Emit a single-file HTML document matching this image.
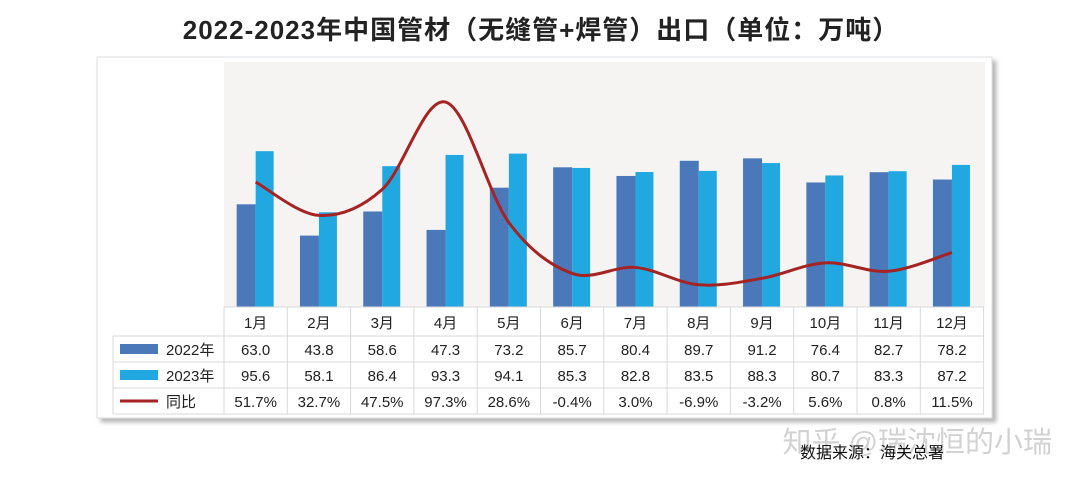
<!DOCTYPE html>
<html><head><meta charset="utf-8"><style>
body{margin:0;background:#fff;width:1080px;height:487px;overflow:hidden}
svg text{font-family:"Liberation Sans","Noto Sans CJK SC",sans-serif}
</style></head><body>
<svg id="s" width="1080" height="487" viewBox="0 0 1080 487" xmlns="http://www.w3.org/2000/svg">
<defs><filter id="sh" x="-5%" y="-5%" width="110%" height="115%"><feDropShadow dx="4" dy="4" stdDeviation="2" flood-color="#888" flood-opacity="0.6"/></filter></defs>
<text x="541" y="39" text-anchor="middle" font-size="26" font-weight="bold" fill="#222" letter-spacing="1">2022-2023年中国管材（无缝管+焊管）出口（单位：万吨）</text>
<rect x="97" y="57" width="895" height="361" fill="#fff" stroke="#ddd" filter="url(#sh)"/>
<rect x="224" y="62" width="761" height="245" fill="#f6f4f3"/>
<g id="bars"></g>
<path id="ln" fill="none" stroke="#a52323" stroke-width="3"/>
<g id="tbl" font-size="15" fill="#222"></g>
<text x="1052" y="452" text-anchor="end" font-size="29" fill="#c8c8c8" opacity="0.8">知乎 @瑞沈恒的小瑞</text>
<text x="800" y="458" font-size="16" fill="#111">数据来源：海关总署</text>
</svg>
<script>
const a=[63.0,43.8,58.6,47.3,73.2,85.7,80.4,89.7,91.2,76.4,82.7,78.2];
const b=[95.6,58.1,86.4,93.3,94.1,85.3,82.8,83.5,88.3,80.7,83.3,87.2];
const c=[51.7,32.7,47.5,97.3,28.6,-0.4,3.0,-6.9,-3.2,5.6,0.8,11.5];
const cs=["51.7%","32.7%","47.5%","97.3%","28.6%","-0.4%","3.0%","-6.9%","-3.2%","5.6%","0.8%","11.5%"];
const x0=224,w=63.3,base=307,k=1.63;
let h="";
for(let i=0;i<12;i++){const cx=x0+w*i+w/2;
h+=`<rect x="${cx-19}" y="${base-a[i]*k}" width="19" height="${a[i]*k}" fill="#4a78b8"/>`;
h+=`<rect x="${cx}" y="${base-b[i]*k}" width="18" height="${b[i]*k}" fill="#22a8e0"/>`;}
document.getElementById('bars').innerHTML=h;
const P=c.map((v,i)=>[x0+w*i+w/2,272.7-v*1.754]);
let d=`M${P[0][0]},${P[0][1]}`;
for(let i=0;i<11;i++){const p0=P[Math.max(i-1,0)],p1=P[i],p2=P[i+1],p3=P[Math.min(i+2,11)];
d+=` C${p1[0]+(p2[0]-p0[0])/6},${p1[1]+(p2[1]-p0[1])/6} ${p2[0]-(p3[0]-p1[0])/6},${p2[1]-(p3[1]-p1[1])/6} ${p2[0]},${p2[1]}`;}
document.getElementById('ln').setAttribute('d',d);
let t="";const ys=[307,336,362,388,414];
for(let r=0;r<5;r++){t+=`<line x1="${r==0?224:113}" y1="${ys[r]}" x2="984" y2="${ys[r]}" stroke="#d8d8d8"/>`;}
t+=`<line x1="113" y1="336" x2="113" y2="414" stroke="#d8d8d8"/>`;
for(let i=0;i<=12;i++){const x=x0+w*i;t+=`<line x1="${x}" y1="307" x2="${x}" y2="414" stroke="#d8d8d8"/>`;}
for(let i=0;i<12;i++){const cx=x0+w*i+w/2;
t+=`<text x="${cx}" y="328" text-anchor="middle">${i+1}月</text>`;
t+=`<text x="${cx}" y="355" text-anchor="middle">${a[i].toFixed(1)}</text>`;
t+=`<text x="${cx}" y="381" text-anchor="middle">${b[i].toFixed(1)}</text>`;
t+=`<text x="${cx}" y="407" text-anchor="middle">${cs[i]}</text>`;}
t+=`<rect x="120" y="344" width="38" height="10" fill="#4a78b8"/><text x="166" y="355">2022年</text>`;
t+=`<rect x="120" y="370" width="38" height="10" fill="#22a8e0"/><text x="166" y="381">2023年</text>`;
t+=`<line x1="120" y1="401" x2="158" y2="401" stroke="#a52323" stroke-width="3"/><text x="166" y="407">同比</text>`;
document.getElementById('tbl').innerHTML=t;
</script>
</body></html>
